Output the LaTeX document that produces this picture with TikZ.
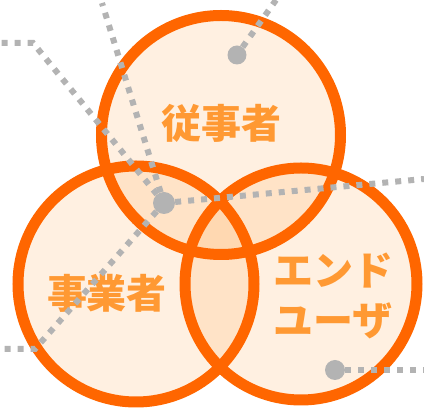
\documentclass[tikz,border=0pt]{standalone}
\usepackage{fontspec}
\newfontfamily\jp{Noto Sans CJK JP}
\definecolor{ringc}{HTML}{FF6600}
\definecolor{fillc}{HTML}{FF9933}
\definecolor{textc}{HTML}{FF9933}
\definecolor{dotc}{HTML}{B3B3B3}
\tikzset{
  disc/.style={circle, inner sep=0pt, outer sep=0pt, fill=fillc, fill opacity=0.15, minimum size=#1},
  ringline/.style={draw=ringc, line width=11pt},
  lbl/.style={text=textc, font=\jp\bfseries\fontsize{40}{50}\selectfont, align=center, inner sep=0pt},
  dotline/.style={draw=dotc, line width=6pt, dash pattern=on 6pt off 7pt},
  hub/.style={circle, fill=dotc, inner sep=0pt, minimum size=#1},
}
\begin{document}
\begin{tikzpicture}[x=1pt, y=-1pt]
\useasboundingbox (0,0) rectangle (424,411);
% circles
\node[disc=239pt] (top) at (221,135) {};
\node[disc=236pt] (left) at (136,284) {};
\node[disc=232pt] (right) at (301,284) {};
\draw[ringline] (top.center) circle[radius=119.5];
\draw[ringline] (left.center) circle[radius=118];
\draw[ringline] (right.center) circle[radius=116];
% labels
\node[lbl] (ltop) at (221,123) {従事者};
\node[lbl] (lleft) at (107,293) {事業者};
\node[lbl] (lright) at (333,296) {エンド\\ユーザ};
% dots
\node[hub=22pt] (d1) at (164,203) {};
\node[hub=19pt] (d2) at (237,55) {};
\node[hub=20pt] (d3) at (335,370) {};
% free ends
\coordinate (a1) at (33,43);
\coordinate (a2) at (0,43);
\coordinate (b1) at (102,3);
\coordinate (c1) at (424,179);
\coordinate (e1) at (35,349);
\coordinate (e2) at (0,349);
\coordinate (f1) at (276,0);
\coordinate (g1) at (424,370);
% connectors
\draw[dotline] (d1) -- (a1) -- (a2);
\draw[dotline] (d1) -- (b1);
\draw[dotline] (d1) -- (c1);
\draw[dotline] (d1) -- (e1) -- (e2);
\draw[dotline] (d2) -- (f1);
\draw[dotline] (d3) -- (g1);
\end{tikzpicture}
\end{document}
